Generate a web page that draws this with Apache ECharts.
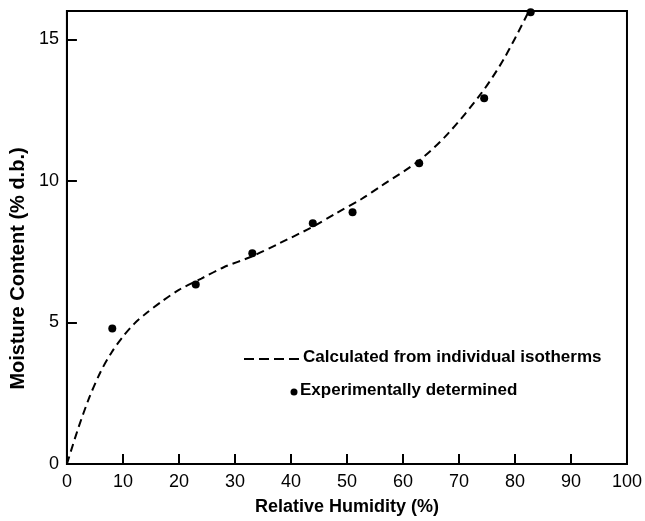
<!DOCTYPE html>
<html>
<head>
<meta charset="utf-8">
<script src="https://cdn.jsdelivr.net/npm/echarts@6/dist/echarts.min.js"></script>
<style>
  html, body { margin: 0; padding: 0; background: #fff; }
  #chart { width: 645px; height: 521px; }
</style>
</head>
<body>
<div id="chart"></div>
<script>
// dashed curve: calculated from individual isotherms
var curveRH = [0, 2, 4, 6, 8, 10, 12, 14, 17, 20, 24, 28, 33, 38, 43.7, 48, 52.6, 56.2, 62.9, 68, 73.9, 78, 82.5];
var curveMC = [0, 1.25, 2.35, 3.25, 3.95, 4.5, 4.95, 5.3, 5.75, 6.15, 6.55, 6.95, 7.33, 7.8, 8.36, 8.85, 9.36, 9.83, 10.72, 11.66, 13.07, 14.3, 16];

// dots: experimentally determined
var pointRH = [8.1, 23.0, 33.1, 43.9, 51.0, 62.9, 74.5, 82.8];
var pointMC = [4.79, 6.34, 7.44, 8.5, 8.89, 10.62, 12.92, 15.96];

var legendLabels = ['Calculated from individual isotherms', 'Experimentally determined'];
var xName = 'Relative Humidity (%)';
var yName = 'Moisture Content (% d.b.)';

var font = '"Liberation Sans", Arial, sans-serif';

var pairs = function(xs, ys) {
  return xs.map(function(x, i) { return [x, ys[i]]; });
};

var chart = echarts.init(document.getElementById('chart'));

var option = {
  backgroundColor: '#fff',
  animation: false,
  grid: {
    left: 63, right: 18, top: 11, bottom: 56,
    show: true,
    borderColor: '#000',
    borderWidth: 2
  },
  xAxis: {
    type: 'value',
    min: 0, max: 100, interval: 10,
    name: xName,
    nameLocation: 'middle',
    nameGap: 34,
    nameTextStyle: { fontFamily: font, fontSize: 18, fontWeight: 'bold', color: '#000' },
    axisLine: { lineStyle: { color: '#000', width: 2 } },
    axisTick: { inside: true, length: 10, lineStyle: { color: '#000', width: 2 } },
    axisLabel: { margin: 9, fontFamily: font, fontSize: 18, color: '#000' },
    splitLine: { show: false }
  },
  yAxis: {
    type: 'value',
    min: 0, max: 16, interval: 5,
    name: yName,
    nameLocation: 'middle',
    nameGap: 33,
    nameTextStyle: { fontFamily: font, fontSize: 20, fontWeight: 'bold', color: '#000', padding: [0, 62, 0, 0] },
    axisLine: { lineStyle: { color: '#000', width: 2 } },
    axisTick: { inside: true, length: 10, lineStyle: { color: '#000', width: 2 } },
    axisLabel: { margin: 8, showMaxLabel: false, fontFamily: font, fontSize: 18, color: '#000' },
    splitLine: { show: false }
  },
  graphic: [
    { type: 'line', shape: { x1: 244, y1: 359, x2: 299, y2: 359 },
      style: { stroke: '#000', lineWidth: 2, lineDash: [10, 5] } },
    { type: 'text', left: 303, top: 349,
      style: { text: legendLabels[0], font: 'bold 17px ' + font, fill: '#000' } },
    { type: 'circle', shape: { cx: 294, cy: 392, r: 3.5 }, style: { fill: '#000' } },
    { type: 'text', left: 300, top: 382,
      style: { text: legendLabels[1], font: 'bold 17px ' + font, fill: '#000' } }
  ],
  series: [
    {
      name: legendLabels[0],
      type: 'line',
      data: pairs(curveRH, curveMC),
      smooth: 0.3,
      showSymbol: false,
      lineStyle: { color: '#000', width: 2, type: [8, 5] }
    },
    {
      name: legendLabels[1],
      type: 'scatter',
      data: pairs(pointRH, pointMC),
      symbolSize: 8,
      clip: false,
      itemStyle: { color: '#000', opacity: 1 }
    }
  ]
};

chart.setOption(option);
</script>
</body>
</html>
